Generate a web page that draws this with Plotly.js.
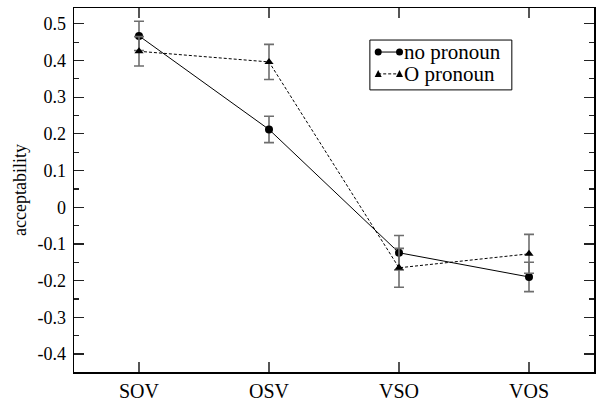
<!DOCTYPE html>
<html>
<head>
<meta charset="utf-8">
<script src="https://cdn.plot.ly/plotly-3.0.1.min.js"></script>
<style>html,body{margin:0;padding:0;background:#fff;}#chart{width:602px;height:403px;}</style>
</head>
<body>
<div id="chart"></div>
<script>
// Data
var categories = ["SOV", "OSV", "VSO", "VOS"];
var seriesNames = ["no pronoun", "O pronoun"];
var noPronoun = [0.467, 0.212, -0.124, -0.190];
var noPronounErr = [0.040, 0.036, 0.047, 0.040];
var oPronoun = [0.425, 0.396, -0.165, -0.127];
var oPronounErr = [0.040, 0.048, 0.053, 0.053];
var yTickVals = [-0.4, -0.3, -0.2, -0.1, 0, 0.1, 0.2, 0.3, 0.4, 0.5];
var yTickText = ["-0.4", "-0.3", "-0.2", "-0.1", "0", "0.1", "0.2", "0.3", "0.4", "0.5"];
var yMinorVals = [-0.45, -0.35, -0.25, -0.15, -0.05, 0.05, 0.15, 0.25, 0.35, 0.45];
var yTitle = "acceptability";

var FONT = "Liberation Serif";
var errStyle = {type: "data", visible: true, color: "#6e6e6e", thickness: 1.6, width: 5};

var traces = [
  {
    x: categories, y: noPronoun, name: seriesNames[0], type: "scatter", mode: "lines+markers",
    line: {color: "#000", width: 1, dash: "solid"},
    marker: {symbol: "circle", size: 8, color: "#000"},
    error_y: Object.assign({array: noPronounErr}, errStyle),
    showlegend: false
  },
  {
    x: categories, y: oPronoun, name: seriesNames[1], type: "scatter", mode: "lines+markers",
    line: {color: "#000", width: 1, dash: "3px,2px"},
    marker: {symbol: "triangle-up", size: 8, color: "#000"},
    error_y: Object.assign({array: oPronounErr}, errStyle),
    showlegend: false
  }
];

// Custom legend (box with two-marker glyphs), in paper coordinates
var PW = 520, PH = 364; // plot area size in px, for glyph sizing
var lgX0 = 0.569, lgX1 = 0.842, lgY0 = 0.775, lgY1 = 0.912;
var rowY = [0.879, 0.819];
var gA = 0.585, gB = 0.626, txtX = 0.630;
var rx = 3.5 / PW, ry = 3.5 / PH;
var shapes = [
  {type: "rect", xref: "paper", yref: "paper", x0: lgX0, x1: lgX1, y0: lgY0, y1: lgY1,
   line: {color: "#000", width: 1}, fillcolor: "#fff", layer: "above"},
  {type: "line", xref: "paper", yref: "paper", x0: gA, x1: gB, y0: rowY[0], y1: rowY[0],
   line: {color: "#000", width: 1}, layer: "above"},
  {type: "line", xref: "paper", yref: "paper", x0: gA, x1: gB, y0: rowY[1], y1: rowY[1],
   line: {color: "#000", width: 1, dash: "3px,2px"}, layer: "above"}
];
[gA, gB].forEach(function (gx) {
  shapes.push({type: "circle", xref: "paper", yref: "paper",
    x0: gx - rx, x1: gx + rx, y0: rowY[0] - ry, y1: rowY[0] + ry,
    fillcolor: "#000", line: {color: "#000", width: 0}, layer: "above"});
  var p = "M " + (gx - rx) + " " + (rowY[1] - 3 / PH) + " L " + (gx + rx) + " " + (rowY[1] - 3 / PH) +
          " L " + gx + " " + (rowY[1] + 4 / PH) + " Z";
  shapes.push({type: "path", xref: "paper", yref: "paper", path: p,
    fillcolor: "#000", line: {color: "#000", width: 0}, layer: "above"});
});

var annotations = seriesNames.map(function (name, i) {
  return {text: name, xref: "paper", yref: "paper", x: txtX, y: rowY[i], xanchor: "left", yanchor: "middle",
    showarrow: false, font: {family: FONT, size: 21, color: "#000"}};
});

var layout = {
  width: 602, height: 403,
  margin: {l: 74, r: 8, t: 8, b: 31},
  paper_bgcolor: "#fff", plot_bgcolor: "#fff",
  showlegend: false,
  xaxis: {
    type: "category", range: [-0.5, 3.5],
    showline: true, linecolor: "#000", linewidth: 1.5, mirror: "ticks",
    ticks: "inside", ticklen: 10, tickcolor: "#555", tickwidth: 1.2,
    showgrid: false, zeroline: false,
    tickfont: {family: FONT, size: 20, color: "#000"}
  },
  yaxis: {
    range: [-0.449, 0.543],
    tickmode: "array", tickvals: yTickVals, ticktext: yTickText,
    showline: true, linecolor: "#000", linewidth: 1.5, mirror: "ticks",
    ticks: "inside", ticklen: 10, tickcolor: "#222", tickwidth: 1.2,
    ticklabelstandoff: 3,
    minor: {tickvals: yMinorVals, ticks: "inside", ticklen: 5, tickcolor: "#222", tickwidth: 1.2, showgrid: false},
    showgrid: false, zeroline: false,
    tickfont: {family: FONT, size: 18, color: "#000"},
    title: {text: yTitle, font: {family: FONT, size: 18, color: "#000"}, standoff: 6}
  },
  shapes: shapes,
  annotations: annotations
};

Plotly.newPlot("chart", traces, layout, {displayModeBar: false, staticPlot: true});
</script>
</body>
</html>
